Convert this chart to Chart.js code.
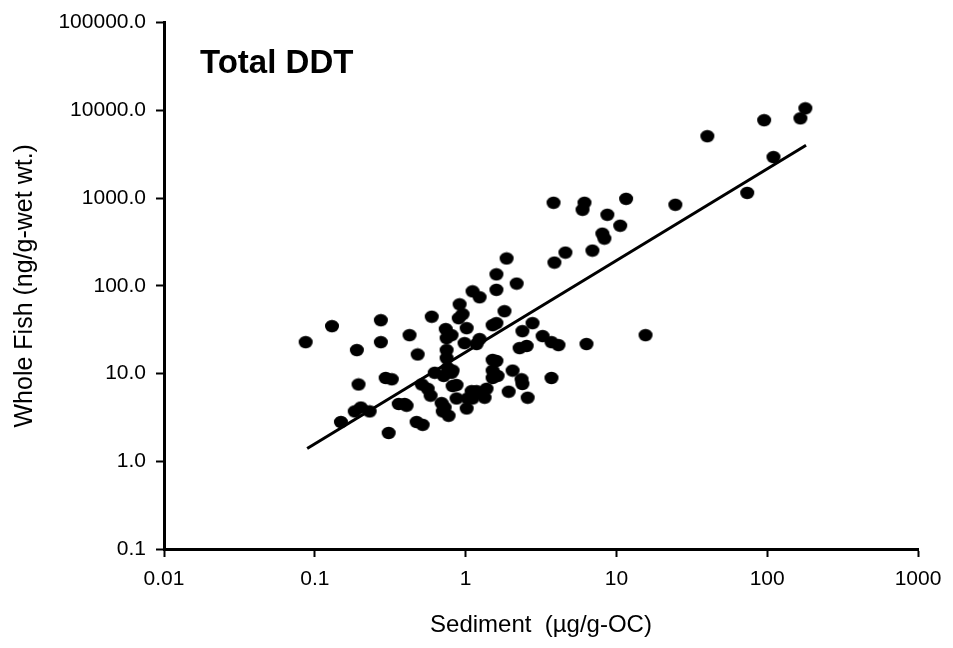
<!DOCTYPE html>
<html>
<head>
<meta charset="utf-8">
<title>Total DDT</title>
<script src="https://cdn.jsdelivr.net/npm/chart.js@4.4.1/dist/chart.umd.min.js"></script>
<style>
  html, body { margin: 0; padding: 0; background: #fff; }
  #chart { display: block; }
</style>
</head>
<body>
<canvas id="chart" width="953" height="648"></canvas>
<script>
// Sediment (ug/g-OC) vs whole fish (ng/g-wet wt.)
const sedimentX = [
  0.087, 0.130, 0.149, 0.184, 0.202, 0.231, 0.190, 0.195, 0.274, 0.274,
  0.295, 0.324, 0.309, 0.360, 0.406, 0.473, 0.519, 0.425, 0.481, 0.596,
  0.512, 0.560, 0.586, 0.624, 0.715, 0.820, 0.693, 0.726, 0.771, 0.748,
  0.748, 0.820, 0.871, 0.871, 0.738, 0.807, 0.748, 0.912, 0.955, 0.900,
  1.016, 1.112, 1.238, 1.60, 2.18, 1.87, 1.60, 1.81, 1.51, 1.60,
  0.984, 1.183, 1.238, 1.51, 1.60, 1.51, 1.63, 1.51, 2.05, 2.35,
  2.38, 1.096, 1.183, 1.03, 1.112, 1.016, 1.377, 1.336, 1.93, 2.38,
  2.78, 2.28, 2.54, 2.58, 3.24, 3.71, 4.13, 6.33, 15.6, 3.71,
  0.394, 0.705, 0.760, 0.807, 3.83, 6.14, 5.96, 11.6, 8.71, 10.6,
  8.07, 8.33, 4.59, 3.88, 6.93, 24.6, 40.1, 73.7, 95.5, 110,
  166, 179, 1.28
];
const fishY = [
  22.8, 34.7, 2.8, 3.7, 4.1, 3.7, 18.5, 7.5, 40.5, 22.8,
  8.9, 8.6, 2.1, 4.5, 4.3, 2.8, 2.6, 27.4, 16.5, 44.4,
  7.5, 6.7, 5.6, 10.2, 9.4, 10.8, 4.6, 4.1, 3.3, 18.5,
  15.0, 7.2, 7.4, 5.2, 32.1, 27.4, 25.3, 61.5, 47.4, 42.7,
  32.9, 86.4, 74, 90, 106, 205, 135, 51.3, 35.6, 37.5,
  22.2, 21.7, 24.7, 14.3, 13.9, 10.8, 9.4, 8.9, 10.8, 8.6,
  7.6, 6.3, 6.3, 5.2, 5.2, 4.0, 6.7, 5.3, 6.2, 30.4,
  37.5, 19.5, 20.6, 5.3, 26.7, 22.8, 21.1, 21.7, 27.4, 8.9,
  4.5, 3.7, 11.6, 10.2, 883, 883, 735, 980, 645, 484,
  393, 345, 239, 184, 252, 838, 5070, 1145, 7710, 2930,
  8110, 10540, 6.0
];

// regression line end points
const fitX = [0.089, 181];
const fitY = [1.4, 4000];

const xTickValues = [0.01, 0.1, 1, 10, 100, 1000];
const xTickLabels = ["0.01", "0.1", "1", "10", "100", "1000"];
const yTickValues = [0.1, 1, 10, 100, 1000, 10000, 100000];
const yTickLabels = ["0.1", "1.0", "10.0", "100.0", "1000.0", "10000.0", "100000.0"];

const FONT = "'Liberation Sans', Arial, Helvetica, sans-serif";

// slightly flattened dot like the original markers
function makeDot() {
  const c = document.createElement("canvas");
  c.width = 16;
  c.height = 14;
  const g = c.getContext("2d");
  g.fillStyle = "#000";
  g.beginPath();
  g.ellipse(8, 7, 7.0, 6.2, 0, 0, Math.PI * 2);
  g.fill();
  return c;
}

const titlePlugin = {
  id: "insideTitle",
  afterDraw(chart) {
    const ctx = chart.ctx;
    ctx.save();
    ctx.fillStyle = "#000";
    ctx.font = "bold 33px " + FONT;
    ctx.textAlign = "left";
    ctx.textBaseline = "alphabetic";
    ctx.fillText("Total DDT", 200, 73);
    ctx.restore();
  }
};

const points = sedimentX.map((x, i) => ({ x: x, y: fishY[i] }));
const fitLine = fitX.map((x, i) => ({ x: x, y: fitY[i] }));

new Chart(document.getElementById("chart"), {
  type: "scatter",
  data: {
    datasets: [
      {
        data: points,
        pointStyle: makeDot(),
        pointRadius: 7,
        backgroundColor: "#000",
        borderColor: "#000"
      },
      {
        type: "line",
        data: fitLine,
        borderColor: "#000",
        borderWidth: 3,
        pointRadius: 0,
        fill: false,
        tension: 0
      }
    ]
  },
  options: {
    responsive: false,
    animation: false,
    devicePixelRatio: 1,
    layout: { padding: { left: 0, right: 35, top: 20, bottom: 0 } },
    plugins: {
      legend: { display: false },
      tooltip: { enabled: false }
    },
    scales: {
      x: {
        type: "logarithmic",
        position: "bottom",
        min: 0.01,
        max: 1000,
        afterBuildTicks: s => { s.ticks = xTickValues.map(v => ({ value: v })); },
        afterFit: s => { s.height = 99; },
        ticks: {
          autoSkip: false,
          maxRotation: 0,
          padding: 10,
          color: "#000",
          font: { family: FONT, size: 21 },
          callback: v => xTickLabels[xTickValues.indexOf(v)]
        },
        grid: {
          display: true,
          drawOnChartArea: false,
          drawTicks: true,
          tickLength: 8,
          tickWidth: 2,
          tickColor: "#000"
        },
        border: { display: true, color: "#000", width: 3 },
        title: {
          display: true,
          text: "Sediment  (\u00b5g/g-OC)",
          color: "#000",
          font: { family: FONT, size: 24 },
          padding: { top: 0, bottom: 8 }
        }
      },
      y: {
        type: "logarithmic",
        position: "left",
        min: 0.1,
        max: 100000,
        afterBuildTicks: s => { s.ticks = yTickValues.map(v => ({ value: v })); },
        afterFit: s => { s.width = 164; },
        ticks: {
          autoSkip: false,
          padding: 10,
          color: "#000",
          font: { family: FONT, size: 21 },
          callback: v => yTickLabels[yTickValues.indexOf(v)]
        },
        grid: {
          display: true,
          drawOnChartArea: false,
          drawTicks: true,
          tickLength: 8,
          tickWidth: 2,
          tickColor: "#000"
        },
        border: { display: true, color: "#000", width: 3 },
        title: {
          display: true,
          text: "Whole Fish (ng/g-wet wt.)",
          color: "#000",
          font: { family: FONT, size: 25 },
          padding: { top: 10, bottom: 0 }
        }
      }
    }
  },
  plugins: [titlePlugin]
});
</script>
</body>
</html>
